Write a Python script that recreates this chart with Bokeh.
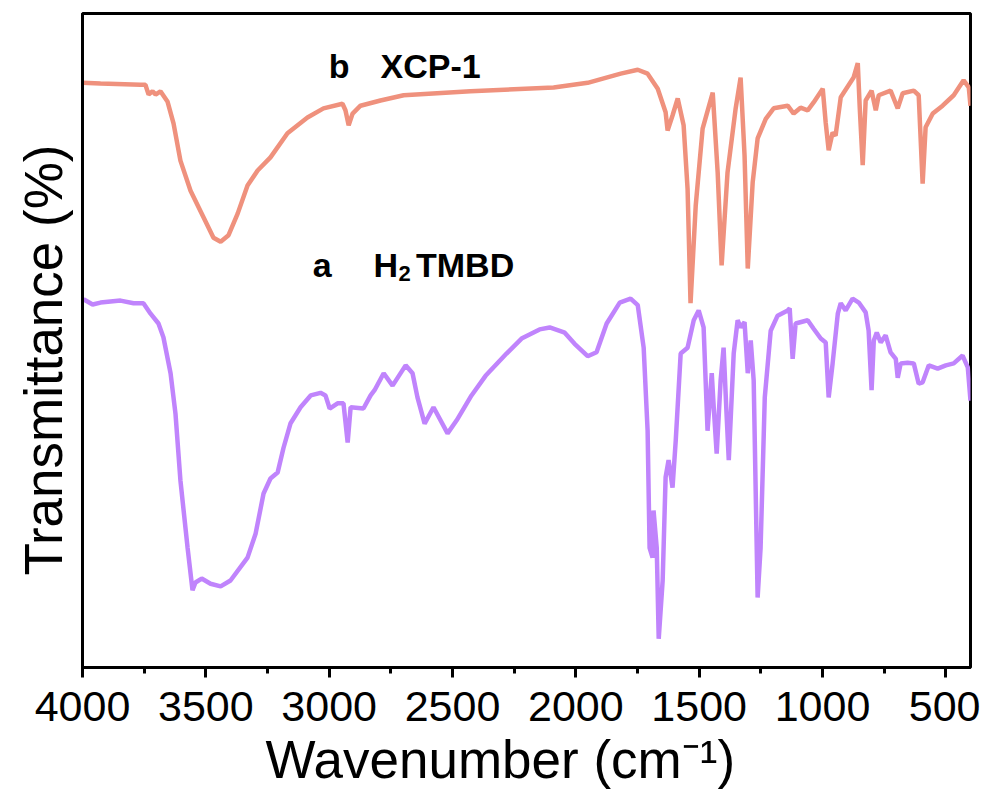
from bokeh.plotting import figure
from bokeh.models import Range1d, SingleIntervalTicker, FixedTicker, Label, Title
from bokeh.embed import file_html
from bokeh.resources import INLINE

# ---- data (wavenumber cm-1, transmittance arb. units) ----
xcp1_wn = [4000, 3927, 3765, 3745, 3732, 3716, 3704, 3684, 3655, 3631, 3603, 3562, 3509, 3469,
           3440, 3408, 3371, 3331, 3290, 3238, 3169, 3088, 3023, 2946, 2934, 2921, 2905, 2873,
           2792, 2698, 2427, 2090, 1952, 1818, 1749, 1709, 1668, 1636, 1628, 1608, 1587, 1563,
           1547, 1535, 1514, 1486, 1445, 1425, 1409, 1385, 1352, 1332, 1316, 1303, 1283, 1263,
           1230, 1198, 1141, 1117, 1089, 1060, 1036, 999, 987, 975, 959, 947, 926, 874, 857,
           849, 837, 825, 801, 784, 772, 724, 695, 675, 630, 610, 594, 582, 553, 513, 468, 428,
           407, 400]
xcp1_t = [89.4, 89.3, 89.1, 89.1, 87.6, 88.1, 87.6, 88.1, 86.5, 83.2, 77.5, 72.9, 68.8, 65.7,
          65.1, 66.1, 69.4, 73.7, 76.0, 78.0, 81.7, 84.1, 85.5, 86.2, 85.2, 82.9, 84.7, 85.9,
          86.7, 87.5, 88.1, 88.7, 89.4, 90.8, 91.4, 90.8, 88.5, 84.9, 82.1, 84.4, 87.0, 82.9,
          73.2, 55.7, 70.6, 82.4, 87.9, 75.7, 61.5, 75.7, 85.5, 90.2, 78.3, 61.0, 74.2, 80.9,
          83.9, 85.5, 85.9, 84.7, 85.6, 85.2, 86.4, 88.5, 83.3, 79.1, 81.8, 81.3, 87.2, 90.2, 92.4,
          85.6, 76.8, 86.7, 88.2, 85.2, 87.5, 88.2, 85.5, 87.8, 88.2, 87.5, 74.0, 82.6, 84.7, 85.9,
          87.5, 89.8, 88.7, 85.9]

h2tmbd_wn = [3996, 3959, 3927, 3846, 3793, 3753, 3724, 3692, 3672, 3643, 3623, 3603, 3574, 3554,
             3542, 3517, 3481, 3440, 3400, 3331, 3298, 3266, 3238, 3209, 3185, 3157, 3116, 3075,
             3035, 3015, 2998, 2966, 2942, 2925, 2913, 2861, 2832, 2816, 2779, 2743, 2690, 2662,
             2642, 2613, 2577, 2520, 2483, 2423, 2366, 2281, 2220, 2147, 2106, 2045, 2005, 1952,
             1916, 1875, 1822, 1778, 1749, 1725, 1709, 1701, 1689, 1685, 1672, 1664, 1648, 1636,
             1624, 1608, 1595, 1575, 1547, 1522, 1502, 1482, 1466, 1449, 1441, 1429, 1413, 1401,
             1389, 1380, 1360, 1344, 1332, 1316, 1303, 1291, 1279, 1263, 1251, 1234, 1210, 1182,
             1141, 1133, 1121, 1109, 1060, 1036, 1007, 987, 975, 959, 938, 926, 906, 878, 853,
             825, 813, 801, 792, 780, 764, 744, 724, 703, 695, 683, 655, 630, 610, 594, 569, 533,
             500, 468, 432, 411, 400]
h2tmbd_t = [56.3, 55.5, 55.8, 56.1, 55.7, 55.7, 54.1, 52.6, 50.5, 45.0, 38.8, 28.6, 18.3, 11.8,
            13.0, 13.6, 12.8, 12.4, 13.3, 16.8, 20.5, 26.6, 28.9, 29.8, 33.6, 37.3, 39.8, 41.6,
            42.0, 41.6, 39.6, 40.4, 40.4, 34.4, 39.8, 39.6, 41.6, 42.4, 45.0, 43.1, 46.2, 45.0,
            41.3, 37.3, 39.8, 35.8, 37.8, 41.6, 44.6, 48.0, 50.3, 51.7, 52.0, 51.2, 49.5, 47.6,
            48.2, 52.6, 55.8, 56.4, 55.4, 48.9, 36.2, 18.3, 16.8, 24.0, 18.3, 4.4, 13.3, 29.1,
            31.7, 27.5, 34.7, 48.0, 48.9, 53.1, 54.6, 52.0, 36.2, 45.0, 39.8, 32.7, 43.9, 48.9,
            38.8, 31.7, 48.0, 53.1, 52.0, 52.8, 45.0, 50.0, 43.9, 10.7, 18.3, 41.3, 51.5, 53.8,
            54.6, 54.9, 47.2, 52.6, 53.1, 51.8, 50.3, 49.7, 41.3, 46.5, 54.1, 55.7, 54.6, 56.4, 55.8,
            54.3, 51.5, 42.4, 50.0, 51.2, 49.7, 50.8, 48.2, 47.2, 44.3, 46.5, 46.6, 46.5, 43.4, 43.6,
            46.2, 45.7, 46.2, 46.5, 47.7, 45.9, 40.8]

x_ticks = [4000, 3500, 3000, 2500, 2000, 1500, 1000, 500]

FONT = "Liberation Sans"

p = figure(width=980, height=796, output_backend="svg", toolbar_location=None,
           x_range=Range1d(4000, 400), y_range=Range1d(0, 100),
           min_border_left=82, min_border_right=10, min_border_top=13, min_border_bottom=129)
p.background_fill_color = "white"
p.border_fill_color = "white"
p.grid.visible = False
p.outline_line_color = "black"
p.outline_line_width = 3

p.line(xcp1_wn, xcp1_t, line_color="#EF917D", line_width=4.5)
p.line(h2tmbd_wn, h2tmbd_t, line_color="#C084FC", line_width=4.5)

xa = p.xaxis[0]
xa.ticker = SingleIntervalTicker(interval=500, num_minor_ticks=2)
xa.axis_line_width = 3
xa.major_tick_line_width = 3
xa.minor_tick_line_width = 3
xa.major_tick_out = 10
xa.major_tick_in = 0
xa.minor_tick_out = 6
xa.minor_tick_in = 0
xa.major_label_text_font = FONT
xa.major_label_text_font_size = "43px"
xa.major_label_text_color = "black"
xa.major_label_text_line_height = 1.0
xa.major_label_standoff = 14

ya = p.yaxis[0]
ya.ticker = FixedTicker(ticks=[])
ya.axis_line_width = 3
ya.major_tick_line_color = None
ya.minor_tick_line_color = None
ya.major_label_text_font_size = "0px"
ya.major_label_standoff = 0
ya.major_tick_out = 0

xt = Title(text="Wavenumber (cm\u207b\u00b9)", align="left", offset=183, standoff=8,
           text_font=FONT, text_font_size="53px", text_font_style="normal",
           text_color="black", text_line_height=1.0)
p.add_layout(xt, "below")
yt = Title(text="Transmittance (%)", align="left", offset=92, standoff=20,
           text_font=FONT, text_font_size="53px", text_font_style="normal",
           text_color="black", text_line_height=1.0)
p.add_layout(yt, "left")

lab_kw = dict(text_font=FONT, text_font_style="bold", text_color="black",
              text_baseline="alphabetic")
p.add_layout(Label(x=3002, y=92.0, text="b", text_font_size="34px", **lab_kw))
p.add_layout(Label(x=2792, y=92.0, text="XCP-1", text_font_size="34px", **lab_kw))
p.add_layout(Label(x=3067, y=61.5, text="a", text_font_size="34px", **lab_kw))
p.add_layout(Label(x=2820, y=61.5, text="H", text_font_size="34px", **lab_kw))
p.add_layout(Label(x=2719, y=60.2, text="2", text_font_size="22px", **lab_kw))
p.add_layout(Label(x=2648, y=61.5, text="TMBD", text_font_size="34px", **lab_kw))

open("out.html", "w").write(file_html(p, INLINE))
